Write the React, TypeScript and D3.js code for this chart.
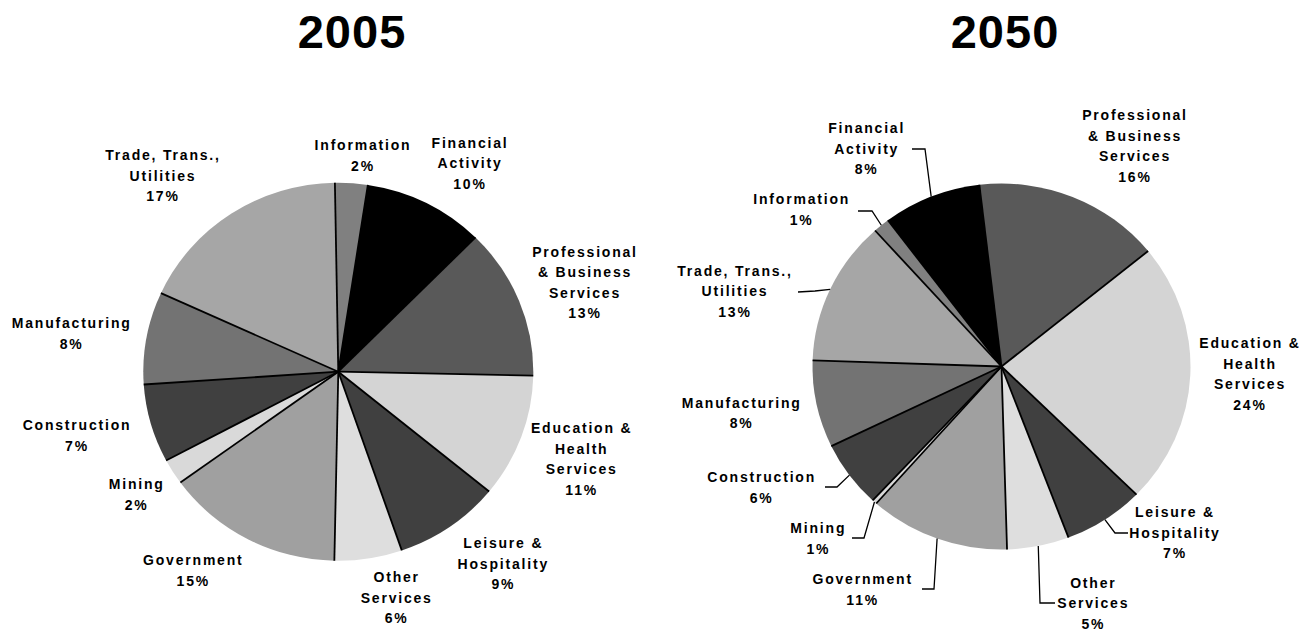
import * as d3 from 'd3';
import React from 'react';

// sectors in pie order, clockwise from the first slice
const sectors = [
  'Information',
  'Financial Activity',
  'Professional & Business Services',
  'Education & Health Services',
  'Leisure & Hospitality',
  'Other Services',
  'Government',
  'Mining',
  'Construction',
  'Manufacturing',
  'Trade, Trans., Utilities',
];

const labelLines = [
  ['Information'],
  ['Financial', 'Activity'],
  ['Professional', '& Business', 'Services'],
  ['Education &', 'Health', 'Services'],
  ['Leisure &', 'Hospitality'],
  ['Other', 'Services'],
  ['Government'],
  ['Mining'],
  ['Construction'],
  ['Manufacturing'],
  ['Trade, Trans.,', 'Utilities'],
];

// slice sizes
const share2005 = [2.7, 10.0, 12.9, 10.6, 8.8, 5.6, 14.7, 2.2, 6.7, 7.9, 17.9];
const share2050 = [1.4, 8.4, 16.0, 23.2, 6.9, 5.3, 12.0, 0.4, 5.9, 7.7, 12.8];

// printed percentages
const pct2005 = [2, 10, 13, 11, 9, 6, 15, 2, 7, 8, 17];
const pct2050 = [1, 8, 16, 24, 7, 5, 11, 1, 6, 8, 13];

const fills = ['#808080', '#000000', '#595959', '#d4d4d4', '#404040', '#dedede', '#a0a0a0', '#d9d9d9', '#404040', '#737373', '#a6a6a6'];

const FONT = '"Liberation Sans", Arial, Helvetica, sans-serif';
const LINE_H = 20.5;

type Layout = {
  title: string;
  titleX: number;
  cx: number;
  cy: number;
  r: number;
  sx: number;
  start: number; // degrees
  labels: [number, number][];
  leaders: ([number, number, number, number] | null)[];
};

const layout2005: Layout = {
  title: '2005',
  titleX: 352,
  cx: 338.3,
  cy: 371.7,
  r: 189,
  sx: 195 / 189,
  start: -1,
  labels: [
    [363, 145], [470, 142.7], [585, 251.7], [581.7, 428.3], [503.3, 543.3],
    [396.7, 577.3], [193.3, 560], [136.7, 484.3], [77, 425], [71.7, 323.3], [163, 155],
  ],
  leaders: sectors.map(() => null),
};

const layout2050: Layout = {
  title: '2050',
  titleX: 1005,
  cx: 1001.5,
  cy: 366.5,
  r: 183,
  sx: 189 / 183,
  start: -42,
  labels: [
    [801.7, 199.3], [866.7, 128.3], [1135, 115], [1250, 343.3], [1175, 512.3],
    [1093.3, 582.5], [862.7, 579.3], [818.3, 528.3], [761.7, 477.3], [741.7, 402.7], [735, 270.7],
  ],
  leaders: [
    [858, 211, 872, 211],
    [912, 149, 925, 149],
    null,
    null,
    [1128, 533, 1115, 533],
    [1055, 603, 1040, 603],
    [922, 589, 934, 589],
    [852, 538, 864, 538],
    [825, 487, 837, 487],
    null,
    [798, 292, 815, 291],
  ],
};

function Pie({ values, pcts, lay }: { values: number[]; pcts: number[]; lay: Layout }) {
  const a0 = (lay.start * Math.PI) / 180;
  const pie = d3.pie<number>().sort(null).value(d => d).startAngle(a0).endAngle(a0 + 2 * Math.PI);
  const arcs = pie(values);
  const arc = d3.arc<d3.PieArcDatum<number>>().innerRadius(0).outerRadius(lay.r);

  return (
    <g>
      <text x={lay.titleX} y={48} textAnchor="middle" fontFamily={FONT} fontWeight="bold" fontSize={47} letterSpacing={1}>
        {lay.title}
      </text>
      <g transform={`translate(${lay.cx},${lay.cy}) scale(${lay.sx},1)`}>
        {arcs.map((a, i) => (
          <path key={'s' + i} d={arc(a) || ''} fill={fills[i]} />
        ))}
        {arcs.map((a, i) => (
          <line
            key={'l' + i}
            x1={0}
            y1={0}
            x2={lay.r * Math.sin(a.startAngle)}
            y2={-lay.r * Math.cos(a.startAngle)}
            stroke="#000"
            strokeWidth={1.8}
            vectorEffect="non-scaling-stroke"
          />
        ))}
      </g>
      {arcs.map((a, i) => {
        const ld = lay.leaders[i];
        if (!ld) return null;
        const mid = (a.startAngle + a.endAngle) / 2;
        const ex = lay.cx + lay.sx * lay.r * Math.sin(mid);
        const ey = lay.cy - lay.r * Math.cos(mid);
        return (
          <polyline
            key={'d' + i}
            points={`${ld[0]},${ld[1]} ${ld[2]},${ld[3]} ${ex},${ey}`}
            fill="none"
            stroke="#000"
            strokeWidth={1.3}
          />
        );
      })}
      {labelLines.map((lines, i) => {
        const [x, y] = lay.labels[i];
        const all = [...lines, pcts[i] + '%'];
        return (
          <text key={'t' + i} fontFamily={FONT} fontWeight="bold" fontSize={14} letterSpacing={1.8} textAnchor="middle" fill="#000">
            {all.map((s, k) => (
              <tspan key={k} x={x} y={y + k * LINE_H} dy="0.36em">
                {s}
              </tspan>
            ))}
          </text>
        );
      })}
    </g>
  );
}

export default function App() {
  return (
    <svg width={1313} height={631} style={{ position: 'absolute', left: 0, top: 0, background: '#fff' }}>
      <rect width={1313} height={631} fill="#fff" />
      <Pie values={share2005} pcts={pct2005} lay={layout2005} />
      <Pie values={share2050} pcts={pct2050} lay={layout2050} />
    </svg>
  );
}
